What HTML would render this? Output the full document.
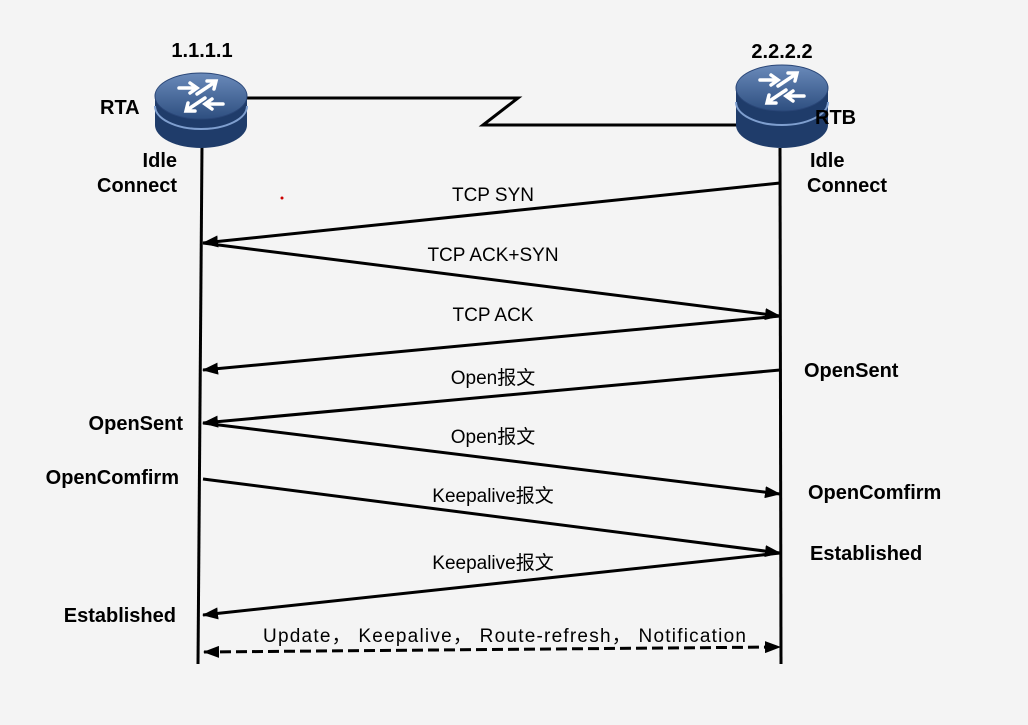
<!DOCTYPE html>
<html><head><meta charset="utf-8"><style>
html,body{margin:0;padding:0;background:#f4f4f4;}
svg{display:block;}
text{font-family:"Liberation Sans","Noto Sans CJK SC",sans-serif;fill:#000;}
.b{font-weight:bold;font-size:20px;}
.m{font-size:19px;}
</style></head><body>
<svg width="1028" height="725" viewBox="0 0 1028 725" xmlns="http://www.w3.org/2000/svg">
<defs>
<marker id="a" markerWidth="16" markerHeight="12" refX="15" refY="6" orient="auto-start-reverse" markerUnits="userSpaceOnUse" viewBox="0 0 16 12">
<path d="M0,0 L16,6 L0,12 z" fill="#000"/></marker>
<linearGradient id="top" x1="0" y1="0" x2="0" y2="1"><stop offset="0" stop-color="#6a8aba"/><stop offset="1" stop-color="#2e4f80"/></linearGradient>
<g id="icon" stroke="#fff" stroke-width="3.5" fill="none" stroke-linecap="round">
<path d="M-22,-8 L-6,-8 M-11,-13 L-4,-8 L-11,-3"/>
<path d="M22,8 L6,8 M11,3 L4,8 L11,13"/>
<path d="M-4,-2 L14,-14 M6,-15 L15,-15 L13,-7"/>
<path d="M4,2 L-14,14 M-6,15 L-15,15 L-13,7"/>
</g>
</defs>
<!-- link -->
<polyline points="245,98 518,98 483,125 740,125" fill="none" stroke="#000" stroke-width="3"/>
<!-- lifelines -->
<line x1="202" y1="145" x2="198" y2="664" stroke="#000" stroke-width="3"/>
<line x1="780" y1="148" x2="781" y2="664" stroke="#000" stroke-width="3"/>
<!-- RTA -->
<g transform="translate(201,96)">
<path d="M-46,0 v29 a46,23 0 0 0 92,0 v-29 z" fill="#1f3c6a"/>
<path d="M-46,10 a46,23 0 0 0 92,0" fill="none" stroke="#7f9fcf" stroke-width="2"/>
<ellipse cx="0" cy="0" rx="46" ry="23" fill="url(#top)" stroke="#2a4677"/>
<use href="#icon"/>
</g>
<!-- RTB -->
<g transform="translate(782,88)">
<path d="M-46,0 v37 a46,23 0 0 0 92,0 v-37 z" fill="#1f3c6a"/>
<path d="M-46,14 a46,23 0 0 0 92,0" fill="none" stroke="#7f9fcf" stroke-width="2"/>
<ellipse cx="0" cy="0" rx="46" ry="23" fill="url(#top)" stroke="#2a4677"/>
<use href="#icon"/>
</g>
<g stroke="#000" stroke-width="3" marker-end="url(#a)">
<line x1="780" y1="183" x2="203" y2="243"/>
<line x1="203" y1="243" x2="780" y2="316"/>
<line x1="780" y1="316" x2="203" y2="370"/>
<line x1="780" y1="370" x2="203" y2="423"/>
<line x1="203" y1="423" x2="780" y2="494"/>
<line x1="203" y1="479" x2="780" y2="553"/>
<line x1="780" y1="553" x2="203" y2="615"/>
<line x1="204" y1="652" x2="780" y2="647" stroke-dasharray="11,5" marker-start="url(#a)"/>
</g>
<g class="m" text-anchor="middle">
<text x="493" y="201">TCP SYN</text>
<text x="493" y="261">TCP ACK+SYN</text>
<text x="493" y="321">TCP ACK</text>
<text x="493" y="384">Open报文</text>
<text x="493" y="443">Open报文</text>
<text x="493" y="502">Keepalive报文</text>
<text x="493" y="569">Keepalive报文</text>
</g>
<text class="m" x="263" y="642" textLength="483" lengthAdjust="spacing">Update， Keepalive， Route-refresh， Notification</text>
<g class="b">
<text x="202" y="57" text-anchor="middle">1.1.1.1</text>
<text x="782" y="58" text-anchor="middle">2.2.2.2</text>
<text x="100" y="114">RTA</text>
<text x="815" y="124">RTB</text>
<text x="177" y="167" text-anchor="end">Idle</text>
<text x="177" y="192" text-anchor="end">Connect</text>
<text x="810" y="167">Idle</text>
<text x="807" y="192">Connect</text>
<text x="804" y="377">OpenSent</text>
<text x="183" y="430" text-anchor="end">OpenSent</text>
<text x="179" y="484" text-anchor="end">OpenComfirm</text>
<text x="808" y="499">OpenComfirm</text>
<text x="810" y="560">Established</text>
<text x="176" y="622" text-anchor="end">Established</text>
</g>
<circle cx="282" cy="198" r="1.5" fill="#c00"/>
</svg>
</body></html>
